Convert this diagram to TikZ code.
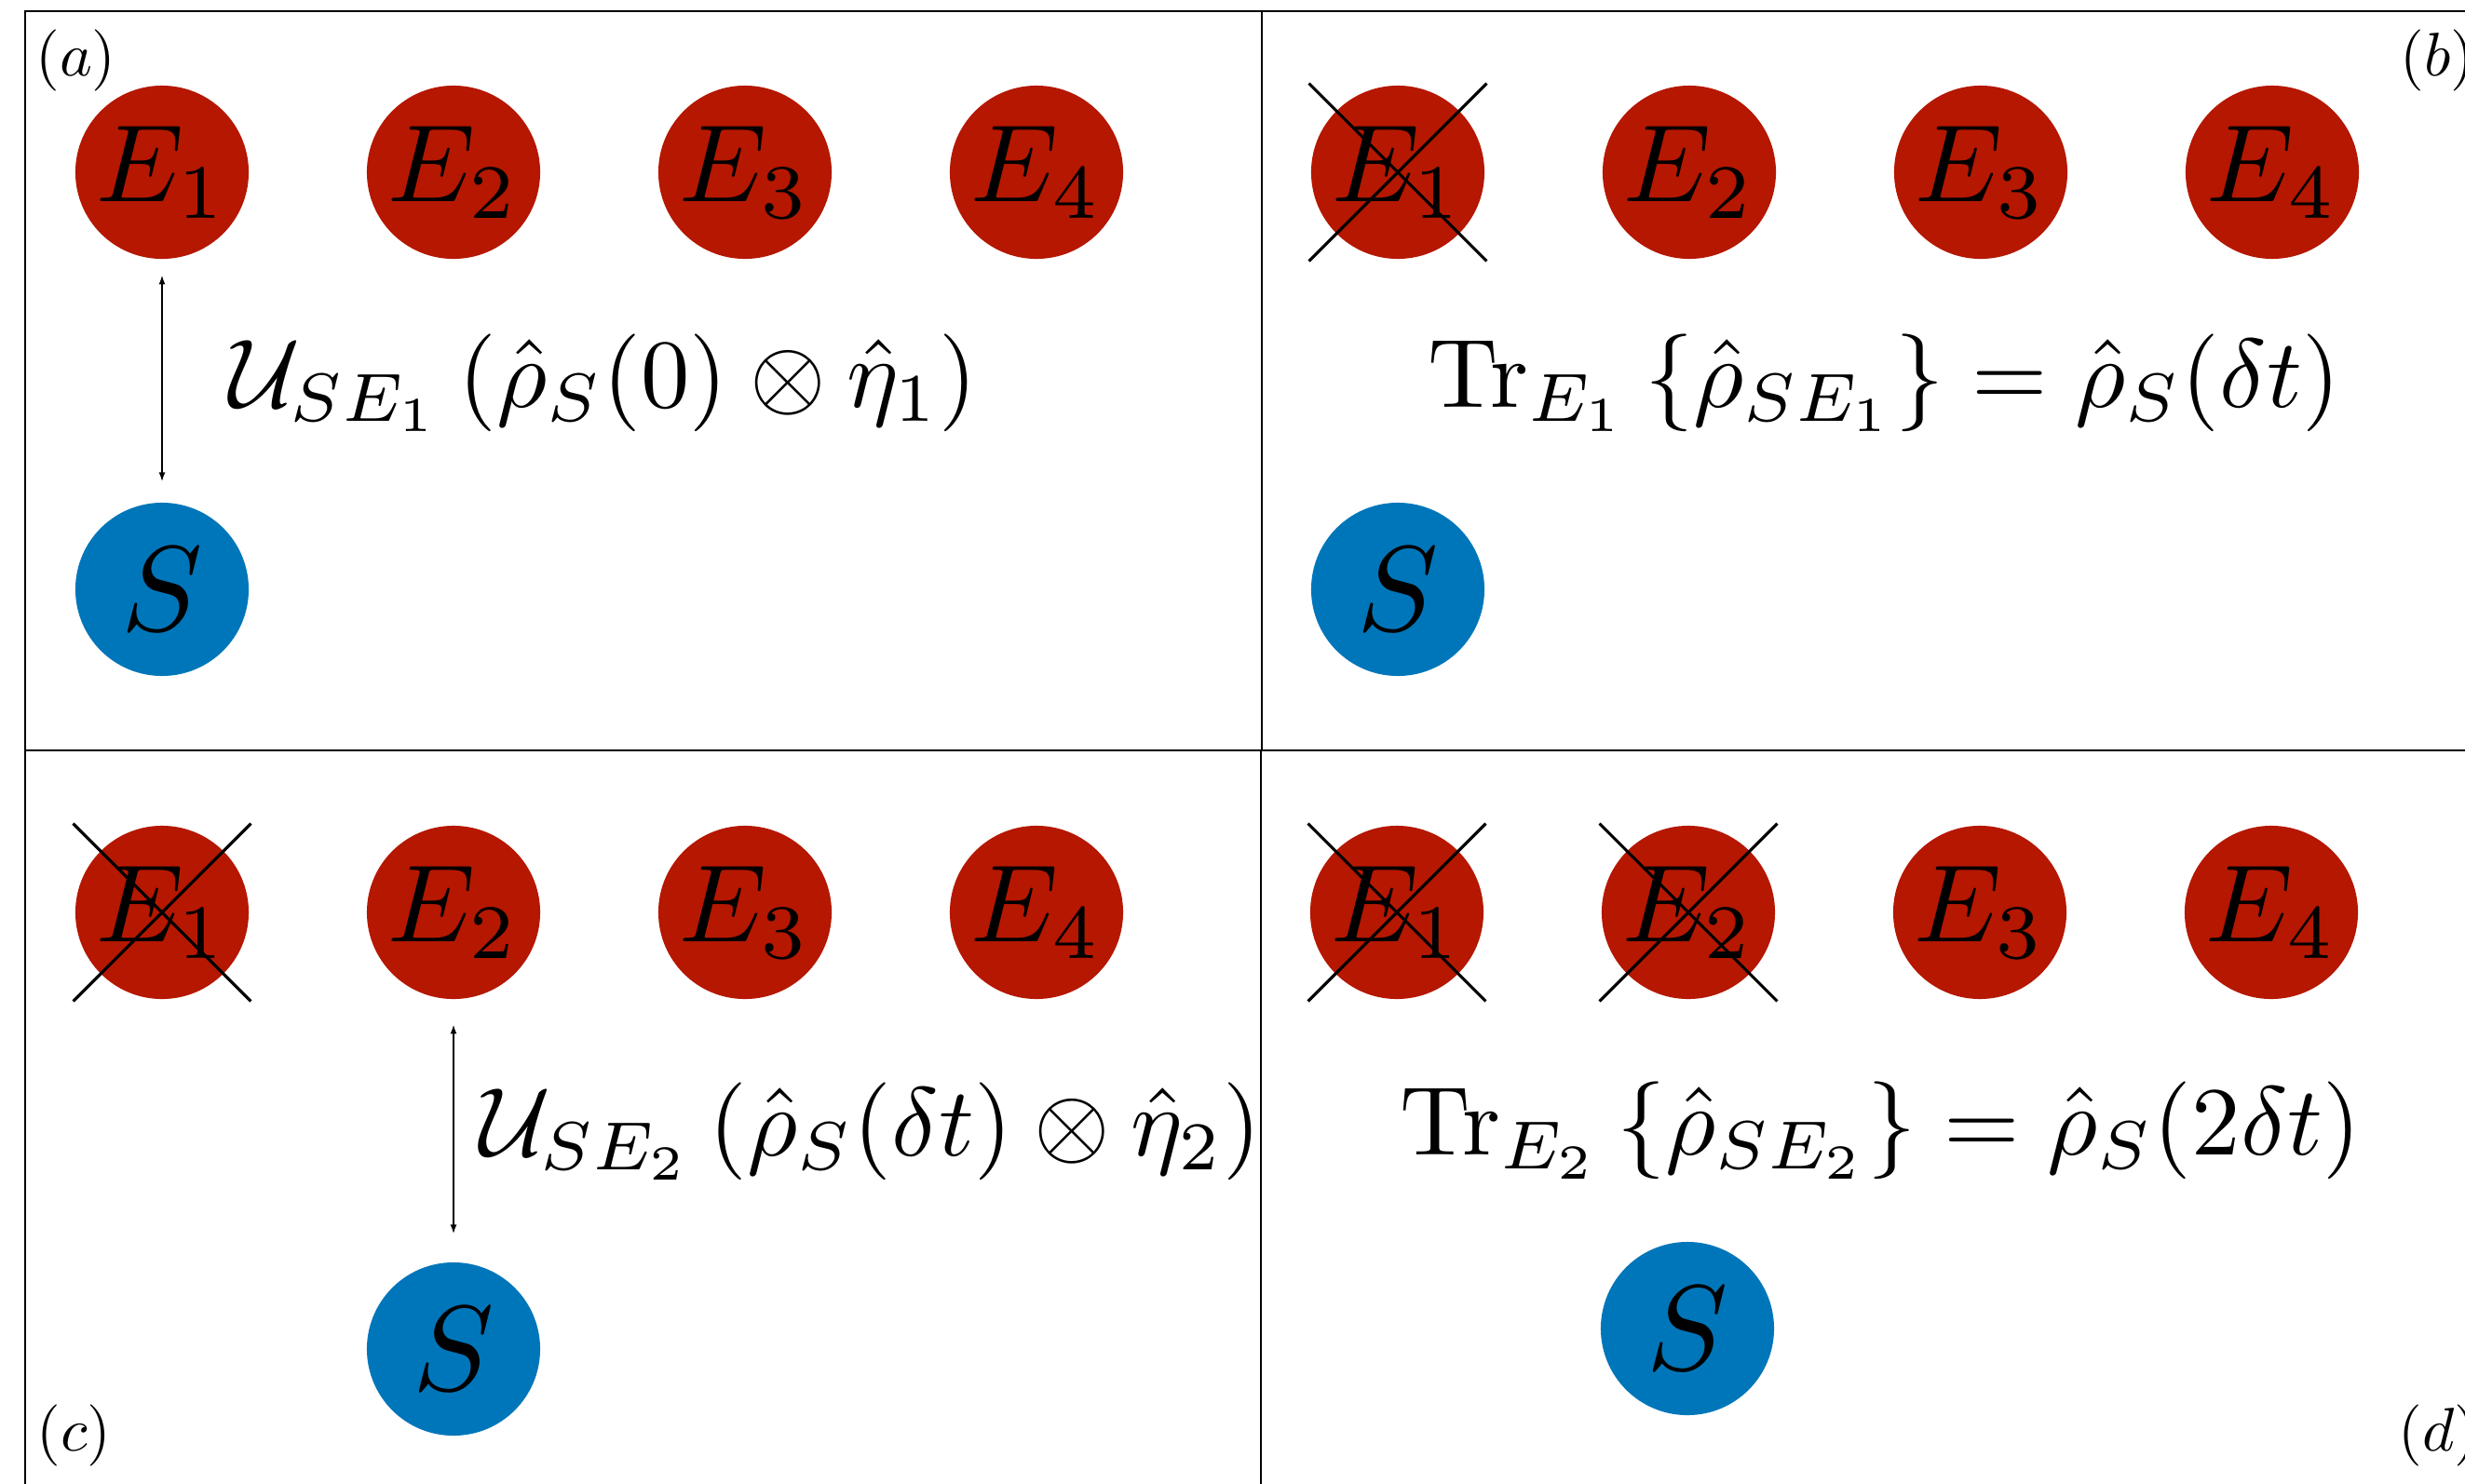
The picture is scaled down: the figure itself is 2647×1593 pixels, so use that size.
\documentclass[tikz,border=0pt]{standalone}
\usepackage{amsmath}
\usetikzlibrary{arrows.meta}
\definecolor{envred}{RGB}{181,23,0}
\definecolor{sysblue}{RGB}{0,118,186}
\tikzset{
  envnode/.style={circle, fill=envred, scale=3.36, minimum size=0.5536cm, inner sep=0pt},
  sysnode/.style={circle, fill=sysblue, scale=3.7, minimum size=0.5027cm, inner sep=0pt},
  panelframe/.style={draw=black, line width=0.6pt},
  crossline/.style={line width=0.9pt},
  interact/.style={{Latex[length=0.1cm,width=0.07cm]}-{Latex[length=0.1cm,width=0.07cm]}, line width=0.5pt},
  formula/.style={anchor=base west, inner sep=0pt, scale=2.98},
  panellabel/.style={anchor=base west, inner sep=0pt, scale=1.88},
}
\newcommand{\crossout}[1]{%
  \draw[crossline] (#1.north -| #1.west) -- (#1.south -| #1.east);
  \draw[crossline] (#1.north -| #1.east) -- (#1.south -| #1.west);}
\begin{document}
\begin{tikzpicture}[x=0.01cm,y=-0.01cm]
\clip (0,0) rectangle (2647,1593);
\fill[white] (0,0) rectangle (2647,1593);
% panel frames
\draw[panelframe] (27,12) rectangle (1355,806);
\draw[panelframe] (1355,12) rectangle (2683,806);
\draw[panelframe] (27,806) rectangle (1354,1600);
\draw[panelframe] (1354,806) rectangle (2683,1600);
% panel labels
\node[panellabel] (la) at (37,81.5) {$(a)$};
\node[panellabel] (lb) at (2576,81.5) {$(b)$};
\node[panellabel] (lc) at (38,1558) {$(c)$};
\node[panellabel] (ld) at (2574,1558) {$(d)$};
% panel (a)
\node[envnode] (a1) at (174,185) {$E_1$};
\node[envnode] (a2) at (487,185) {$E_2$};
\node[envnode] (a3) at (800,185) {$E_3$};
\node[envnode] (a4) at (1113,185) {$E_4$};
\node[sysnode] (as) at (174,633) {$S$};
\draw[interact, shorten <=0.15cm, shorten >=0.2cm] (a1.south) -- (as.north);
\node[formula] (fa) at (244,437) {$\mathcal{U}_{SE_1}\left(\hat{\rho}_S(0)\otimes\hat{\eta}_1\right)$};
% panel (b)
\node[envnode] (b1) at (1501,185) {$E_1$};
\node[envnode] (b2) at (1814,185) {$E_2$};
\node[envnode] (b3) at (2127,185) {$E_3$};
\node[envnode] (b4) at (2440,185) {$E_4$};
\node[sysnode] (bs) at (1501,633) {$S$};
\crossout{b1}
\node[formula] (fb) at (1531,437) {$\operatorname{Tr}_{E_1}\left\{\hat{\rho}_{SE_1}\right\}=\hat{\rho}_S(\delta t)$};
% panel (c)
\node[envnode] (c1) at (174,980) {$E_1$};
\node[envnode] (c2) at (487,980) {$E_2$};
\node[envnode] (c3) at (800,980) {$E_3$};
\node[envnode] (c4) at (1113,980) {$E_4$};
\node[sysnode] (cs) at (487,1449) {$S$};
\crossout{c1}
\draw[interact, shorten <=0.25cm, shorten >=0.28cm] (c2.south) -- (cs.north);
\node[formula] (fc) at (513,1241) {$\mathcal{U}_{SE_2}\left(\hat{\rho}_S(\delta t)\otimes\hat{\eta}_2\right)$};
% panel (d)
\node[envnode] (d1) at (1500,980) {$E_1$};
\node[envnode] (d2) at (1813,980) {$E_2$};
\node[envnode] (d3) at (2126,980) {$E_3$};
\node[envnode] (d4) at (2439,980) {$E_4$};
\node[sysnode] (ds) at (1812,1427) {$S$};
\crossout{d1}
\crossout{d2}
\node[formula] (fd) at (1501,1240) {$\operatorname{Tr}_{E_2}\left\{\hat{\rho}_{SE_2}\right\}=\hat{\rho}_S(2\delta t)$};
\end{tikzpicture}
\end{document}
